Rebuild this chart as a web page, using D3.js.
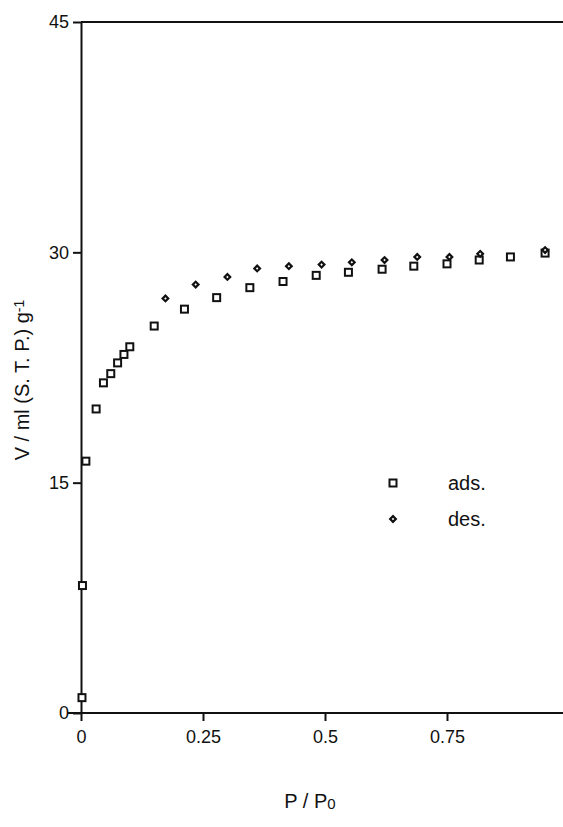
<!DOCTYPE html>
<html lang="en">
<head>
  <meta charset="UTF-8">
  <title>Isotherm</title>
  <style>
  body { margin: 0; background: #fff; }
  text { font-family: "Liberation Sans", Arial, sans-serif; fill: #111; }
  .axis path, .axis line { stroke: #111; stroke-width: 2px; }
  .ads { fill: #fff; stroke: #111; stroke-width: 2px; }
  .des { fill: #fff; stroke: #111; stroke-width: 2.2px; }
  </style>
</head>
<body>
  <script src="https://d3js.org/d3.v7.min.js"></script>
  <script>
// adsorption branch (squares)
const adsX = [0.002, 0.003, 0.010, 0.031, 0.046, 0.061, 0.075, 0.088, 0.100, 0.150, 0.212,
  0.278, 0.346, 0.414, 0.482, 0.548, 0.617, 0.682, 0.750, 0.816, 0.880, 0.951]
const adsY = [1.0, 8.3, 16.4, 19.8, 21.5, 22.1, 22.8, 23.35, 23.85, 25.2, 26.3,
  27.05, 27.7, 28.1, 28.5, 28.7, 28.9, 29.1, 29.25, 29.5, 29.7, 29.95]
// desorption branch (diamonds)
const desX = [0.173, 0.235, 0.300, 0.361, 0.426, 0.493, 0.555, 0.622, 0.689, 0.755, 0.818, 0.951]
const desY = [27.0, 27.9, 28.4, 28.95, 29.1, 29.2, 29.35, 29.5, 29.7, 29.7, 29.9, 30.15]
const xTicks = [0, 0.25, 0.5, 0.75]
const xTickLabels = ["0", "0.25", "0.5", "0.75"]
const yTicks = [0, 15, 30, 45]
const legendNames = ["ads.", "des."]

width = 563
height = 827
margin = ({top: 22, right: 0, bottom: 114, left: 81})

x = d3.scaleLinear()
  .domain([0, (width - margin.left) / 488])
  .range([margin.left, width - margin.right])
y = d3.scaleLinear()
  .domain([0, 45])
  .range([height - margin.bottom, margin.top])

const svg = d3.select("body").append("svg")
  .attr("width", width)
  .attr("height", height)

// x axis
svg.append("g")
  .attr("class", "axis")
  .attr("transform", `translate(0,${y(0)})`)
  .call(d3.axisBottom(x).tickValues(xTicks).tickFormat((d, i) => xTickLabels[i])
    .tickSize(8).tickSizeOuter(0).tickPadding(9))
  .call(g => g.selectAll("text").attr("font-size", 18))
  .call(g => g.select(".domain").attr("d", `M${margin.left - 13},0H${width}`))

// y axis
svg.append("g")
  .attr("class", "axis")
  .attr("transform", `translate(${x(0)},0)`)
  .call(d3.axisLeft(y).tickValues(yTicks).tickSize(8).tickSizeOuter(0).tickPadding(4))
  .call(g => g.selectAll("text").attr("font-size", 18))

// top frame line
svg.append("line")
  .attr("x1", x(0)).attr("x2", width)
  .attr("y1", y(45)).attr("y2", y(45))
  .attr("stroke", "#111").attr("stroke-width", 2)

const ads = adsX.map((v, i) => ({x: v, y: adsY[i]}))
const des = desX.map((v, i) => ({x: v, y: desY[i]}))

const sq = 7, dm = 4

svg.append("g")
  .selectAll("rect")
  .data(ads)
  .join("rect")
    .attr("class", "ads")
    .attr("x", d => x(d.x) - sq / 2)
    .attr("y", d => y(d.y) - sq / 2)
    .attr("width", sq)
    .attr("height", sq)

svg.append("g")
  .selectAll("rect")
  .data(des)
  .join("rect")
    .attr("class", "des")
    .attr("width", dm)
    .attr("height", dm)
    .attr("transform", d => `translate(${x(d.x)},${y(d.y)}) rotate(45) translate(${-dm / 2},${-dm / 2})`)

// legend
const leg = svg.append("g")
leg.append("rect").attr("class", "ads")
  .attr("x", 393 - sq / 2).attr("y", 483 - sq / 2).attr("width", sq).attr("height", sq)
leg.append("rect").attr("class", "des")
  .attr("width", dm).attr("height", dm)
  .attr("transform", `translate(393,519) rotate(45) translate(${-dm / 2},${-dm / 2})`)
leg.selectAll("text")
  .data(legendNames)
  .join("text")
    .attr("x", 448)
    .attr("y", (d, i) => 490 + i * 36)
    .attr("font-size", 20)
    .text(d => d)

// axis titles
const xt = svg.append("text")
  .attr("x", 310).attr("y", 808)
  .attr("text-anchor", "middle")
  .attr("font-size", 20)
xt.append("tspan").text("P / P")
xt.append("tspan").attr("font-size", 15).attr("dy", 1).text("0")

const yt = svg.append("text")
  .attr("transform", "translate(29,380) rotate(-90)")
  .attr("text-anchor", "middle")
  .attr("font-size", 20)
yt.append("tspan").text("V / ml (S. T. P.) g")
yt.append("tspan").attr("font-size", 14).attr("dy", -5).text("-1")
  </script>
</body>
</html>
